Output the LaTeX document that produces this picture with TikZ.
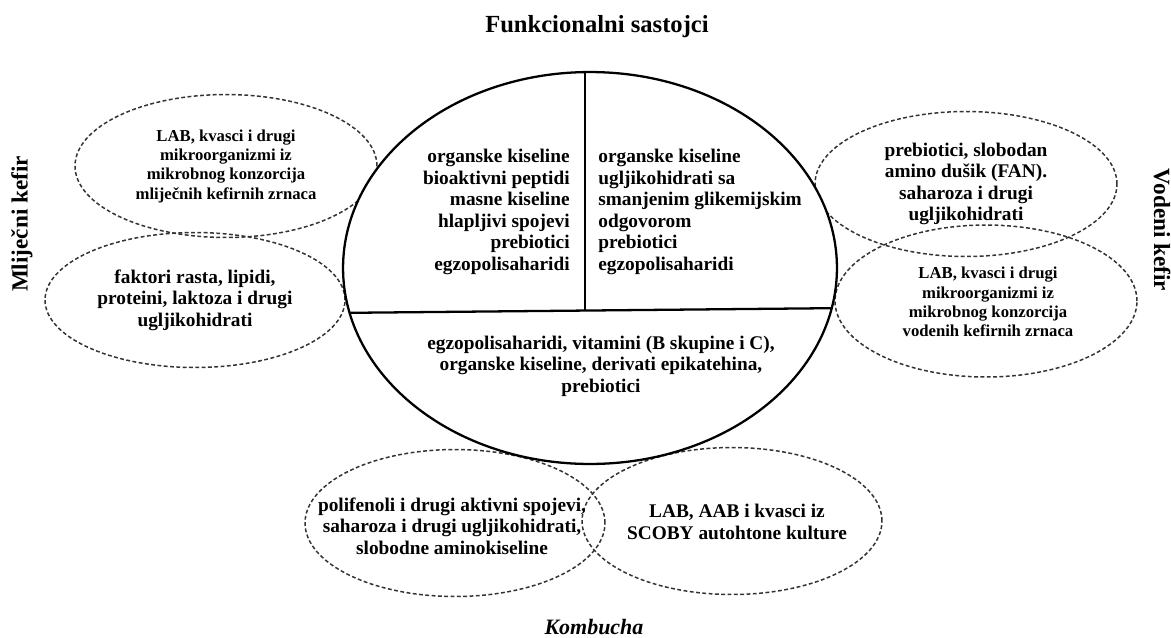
\documentclass[tikz,border=0pt]{standalone}
\usepackage{fontspec}
\setmainfont{Liberation Serif}
\usetikzlibrary{shapes.geometric}

\begin{document}
\begin{tikzpicture}[x=0.02cm, y=-0.02cm,
                bubble/.style = {draw=black!80, ellipse, line width=0.85pt, dash pattern=on 2.2pt off 1.4pt, minimum width=6.04cm, minimum height=2.9cm, inner sep=0pt},
                core/.style = {draw, ellipse, line width=1.3pt, fill=white, minimum width=9.88cm, minimum height=7.84cm, inner sep=0pt},
                txt/.style = {font=\bfseries\fontsize{11}{12.3}\selectfont, align=center, inner sep=0pt},
                small/.style = {font=\bfseries\fontsize{9.5}{11}\selectfont, align=center, inner sep=0pt},
                side/.style = {font=\bfseries\fontsize{13.2}{15}\selectfont, inner sep=0pt}]
                \useasboundingbox (0,0) rectangle (1171,637);

                \node[bubble, minimum height=2.86cm] at (226, 166) (milkA) {};
                \node[bubble, minimum width=6cm, minimum height=2.7cm] at (195, 300) (milkB) {};
                \node[bubble] at (966, 184) (waterA) {};
                \node[bubble, minimum height=3.04cm] at (986, 301) (waterB) {};
                \node[bubble, minimum width=6cm, minimum height=2.94cm] at (455, 523) (kombA) {};
                \node[bubble, minimum width=6cm, minimum height=2.94cm] at (732, 521) (kombB) {};

                \node[small] at (milkA) {LAB, kvasci i drugi\\mikroorganizmi iz\\mikrobnog konzorcija\\mliječnih kefirnih zrnaca};
                \node[txt] at (milkB) {faktori rasta, lipidi,\\proteini, laktoza i drugi\\ugljikohidrati};
                \node[txt] at (waterA) {prebiotici, slobodan\\amino dušik (FAN).\\saharoza i drugi\\ugljikohidrati};
                \node[small] at (988, 302) (waterText) {LAB, kvasci i drugi\\mikroorganizmi iz\\mikrobnog konzorcija\\vodenih kefirnih zrnaca};
                \node[txt] at (452, 526) (kombText) {polifenoli i drugi aktivni spojevi,\\saharoza i drugi ugljikohidrati,\\slobodne aminokiseline};
                \node[txt] at (737, 522) (scobyText) {LAB, AAB i kvasci iz\\SCOBY autohtone kulture};

                \node[core] at (590, 268) (core) {};
                \coordinate (split) at (585, 311);
                \coordinate (cutL) at (330, 313);
                \coordinate (cutR) at (850, 308);
                \begin{scope}
                \clip (core.center) ellipse [x radius=247, y radius=196];
                \draw[line width=1.3pt] (split |- core.north) -- (split);
                \draw[line width=1.3pt] (cutL) -- (cutR);
                \end{scope}

                \node[txt, align=right, anchor=east] at (570, 212) (milkCore) {organske kiseline\\bioaktivni peptidi\\masne kiseline\\hlapljivi spojevi\\prebiotici\\egzopolisaharidi};
                \node[txt, align=left, anchor=west] at (598, 212) (waterCore) {organske kiseline\\ugljikohidrati sa\\smanjenim glikemijskim\\odgovorom\\prebiotici\\egzopolisaharidi};
                \node[txt] at (601, 366) (kombCore) {egzopolisaharidi, vitamini (B skupine i C),\\organske kiseline, derivati epikatehina,\\prebiotici};

                \node[font=\bfseries\fontsize{14}{16}\selectfont] at (597, 27) (title) {Funkcionalni sastojci};
                \node[font=\bfseries\itshape\fontsize{12.5}{14}\selectfont] at (594, 627) (kombucha) {Kombucha};
                \node[side, rotate=90] at (22, 224) (milk) {Mliječni kefir};
                \node[side, rotate=-90] at (1162, 230) (water) {Vodeni kefir};
\end{tikzpicture}
\end{document}
